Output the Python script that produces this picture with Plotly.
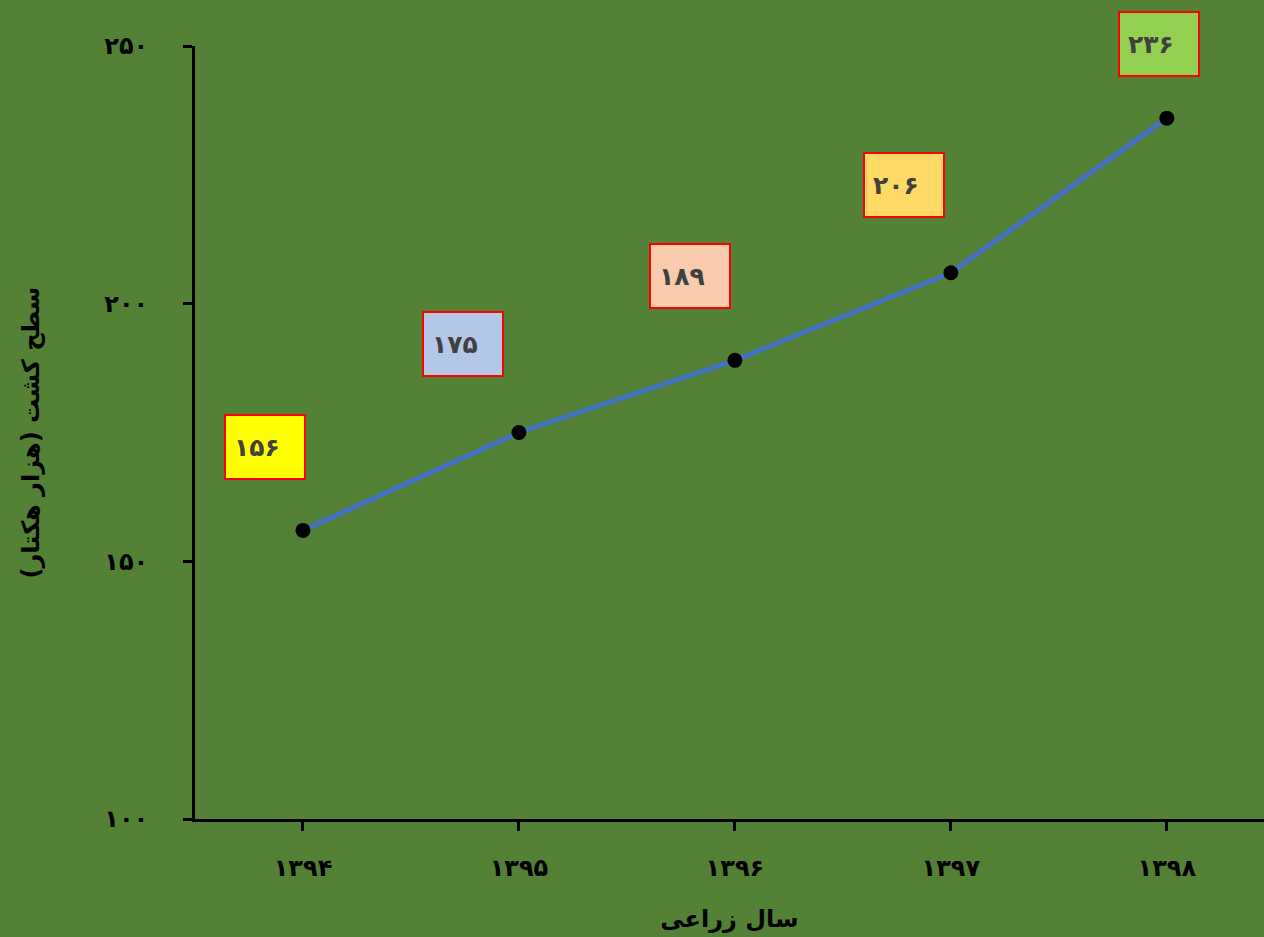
import plotly.graph_objects as go

# Cultivated area by crop year (thousand hectares)
years = ["۱۳۹۴", "۱۳۹۵", "۱۳۹۶", "۱۳۹۷", "۱۳۹۸"]
area = [156, 175, 189, 206, 236]
area_labels = ["۱۵۶", "۱۷۵", "۱۸۹", "۲۰۶", "۲۳۶"]
label_fills = ["#FFFF00", "#B4C7E7", "#F8CBAD", "#FFD966", "#92D050"]
label_offsets = [(-38, 83), (-56, 89), (-45, 84), (-47, 88), (-8, 74)]

y_ticks = [100, 150, 200, 250]
y_tick_text = ["۱۰۰", "۱۵۰", "۲۰۰", "۲۵۰"]

BG = "#538135"
FONT = "DejaVu Sans"

fig = go.Figure()
fig.add_trace(go.Scatter(
    x=list(range(len(years))), y=area, mode="lines+markers",
    line=dict(color="#4472C4", width=5),
    marker=dict(color="black", size=15),
    hoverinfo="skip", showlegend=False,
))

for i, (val, txt, fill, (dx, dy)) in enumerate(zip(area, area_labels, label_fills, label_offsets)):
    fig.add_annotation(
        x=i, y=val, xref="x", yref="y", text="<b>" + txt + "</b>",
        showarrow=False, xshift=dx, yshift=dy,
        font=dict(family=FONT, size=25, color="#404040"),
        bgcolor=fill, bordercolor="#FF0000", borderwidth=2,
        width=62, height=46, borderpad=8, align="left", valign="middle",
    )

fig.update_layout(
    width=1264, height=937,
    paper_bgcolor=BG, plot_bgcolor=BG,
    margin=dict(l=195, r=0, t=46, b=118),
    font=dict(family=FONT, color="black"),
    xaxis=dict(
        tickmode="array", tickvals=list(range(len(years))),
        ticktext=["<b>" + y + "</b>" for y in years],
        range=[-0.5, 4.45], showgrid=False, zeroline=False,
        showline=True, linecolor="black", linewidth=3,
        ticks="outside", ticklen=9, tickwidth=3, tickcolor="black",
        tickfont=dict(size=24, color="black"), ticklabelstandoff=16,
        title=dict(text="<b>سال زراعی</b>", font=dict(size=24, color="black"), standoff=30),
    ),
    yaxis=dict(
        tickmode="array", tickvals=y_ticks,
        ticktext=["<b>" + t + "</b>" for t in y_tick_text],
        range=[100, 250], showgrid=False, zeroline=False,
        showline=True, linecolor="black", linewidth=3,
        ticks="outside", ticklen=9, tickwidth=3, tickcolor="black",
        tickfont=dict(size=24, color="black"), ticklabelstandoff=30,
        title=dict(text="<b>سطح کشت (هزار هکتار)</b>", font=dict(size=24, color="black"), standoff=58),
    ),
)

fig.write_html("out.html")
